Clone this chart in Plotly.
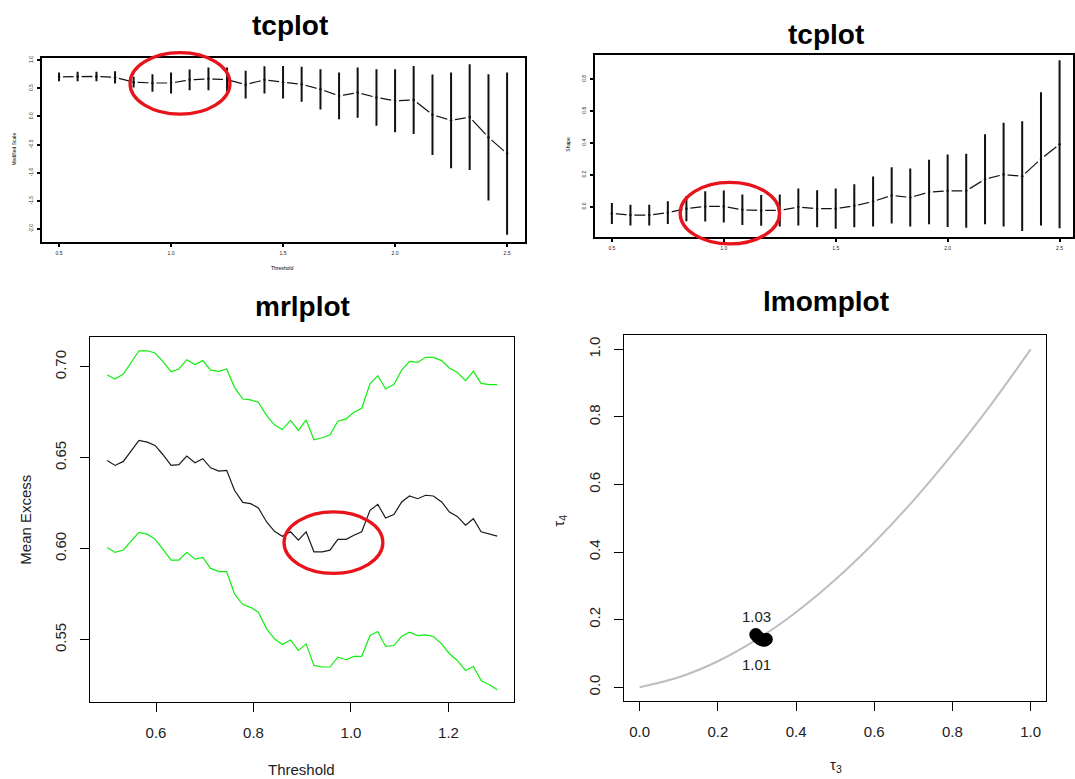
import plotly.graph_objects as go

W, H = 1075, 779

# ---------------- tcplot: modified scale ----------------
tc_threshold = [0.5, 0.583, 0.667, 0.75, 0.833, 0.917, 1.0, 1.083, 1.167, 1.25,
                1.333, 1.417, 1.5, 1.583, 1.667, 1.75, 1.833, 1.917, 2.0, 2.083,
                2.167, 2.25, 2.333, 2.417, 2.5]
mod_scale = [0.705, 0.711, 0.711, 0.696, 0.610, 0.595, 0.595, 0.651, 0.669, 0.654,
             0.566, 0.651, 0.610, 0.572, 0.483, 0.365, 0.424, 0.338, 0.279, 0.294,
             0.031, -0.069, -0.010, -0.371, -0.660]
mod_scale_err = [0.077, 0.083, 0.083, 0.109, 0.095, 0.157, 0.186, 0.183, 0.201, 0.216,
                 0.245, 0.242, 0.289, 0.310, 0.357, 0.416, 0.446, 0.502, 0.561, 0.605,
                 0.715, 0.851, 0.939, 1.122, 1.441]

# ---------------- tcplot: shape ----------------
shape_est = [-0.042, -0.052, -0.052, -0.037, -0.012, 0.002, 0.002, -0.019, -0.023, -0.023,
             -0.002, -0.012, -0.012, 0.006, 0.033, 0.071, 0.058, 0.092, 0.100, 0.100,
             0.173, 0.202, 0.192, 0.300, 0.392]
shape_err = [0.066, 0.065, 0.065, 0.071, 0.079, 0.095, 0.100, 0.096, 0.096, 0.100,
             0.116, 0.116, 0.126, 0.135, 0.156, 0.176, 0.182, 0.202, 0.227, 0.232,
             0.282, 0.325, 0.344, 0.417, 0.527]

# ---------------- mrlplot ----------------
mrl_threshold = [0.5, 0.516, 0.533, 0.549, 0.565, 0.582, 0.598, 0.614, 0.631, 0.647,
                 0.663, 0.680, 0.696, 0.712, 0.729, 0.745, 0.761, 0.778, 0.794, 0.810,
                 0.827, 0.843, 0.859, 0.876, 0.892, 0.908, 0.924, 0.941, 0.957, 0.973,
                 0.990, 1.006, 1.022, 1.039, 1.055, 1.071, 1.088, 1.104, 1.120, 1.137,
                 1.153, 1.169, 1.186, 1.202, 1.218, 1.235, 1.251, 1.267, 1.284, 1.300]
mean_excess = [0.6485, 0.6458, 0.6480, 0.6537, 0.6595, 0.6586, 0.6568, 0.6518, 0.6458, 0.6462,
               0.6509, 0.6473, 0.6495, 0.6445, 0.6427, 0.6431, 0.6321, 0.6255, 0.6248, 0.6224,
               0.6147, 0.6096, 0.6069, 0.6093, 0.6047, 0.6093, 0.5983, 0.5983, 0.5992, 0.6052,
               0.6052, 0.6074, 0.6093, 0.6211, 0.6244, 0.6169, 0.6188, 0.6257, 0.6290, 0.6275,
               0.6294, 0.6290, 0.6257, 0.6202, 0.6178, 0.6129, 0.6165, 0.6093, 0.6080, 0.6069]
mrl_upper = [0.6955, 0.6933, 0.6960, 0.7024, 0.7088, 0.7088, 0.7076, 0.7030, 0.6973, 0.6988,
             0.7039, 0.7012, 0.7034, 0.6982, 0.6975, 0.6988, 0.6887, 0.6823, 0.6818, 0.6805,
             0.6732, 0.6681, 0.6655, 0.6705, 0.6650, 0.6708, 0.6599, 0.6610, 0.6626, 0.6701,
             0.6714, 0.6750, 0.6772, 0.6906, 0.6951, 0.6878, 0.6902, 0.6982, 0.7030, 0.7024,
             0.7052, 0.7052, 0.7034, 0.6992, 0.6970, 0.6924, 0.6975, 0.6909, 0.6902, 0.6902]
mrl_lower = [0.6007, 0.5980, 0.5993, 0.6044, 0.6090, 0.6080, 0.6053, 0.5998, 0.5938, 0.5938,
             0.5980, 0.5943, 0.5952, 0.5892, 0.5874, 0.5874, 0.5752, 0.5693, 0.5678, 0.5651,
             0.5560, 0.5505, 0.5474, 0.5499, 0.5441, 0.5477, 0.5359, 0.5350, 0.5350, 0.5404,
             0.5390, 0.5408, 0.5408, 0.5523, 0.5545, 0.5463, 0.5468, 0.5519, 0.5541, 0.5523,
             0.5527, 0.5518, 0.5477, 0.5423, 0.5386, 0.5331, 0.5353, 0.5276, 0.5253, 0.5225]

# ---------------- lmomplot ----------------
gpd_tau3 = [0.0, 0.1, 0.2, 0.3, 0.4, 0.5, 0.6, 0.7, 0.8, 0.9, 1.0]
gpd_tau4 = [0.0, 0.0294, 0.0769, 0.1415, 0.2222, 0.3182, 0.4286, 0.5526, 0.6897, 0.8390, 1.0]
sample_tau3 = [0.297, 0.302, 0.308, 0.314, 0.319, 0.324]
sample_tau4 = [0.156, 0.149, 0.143, 0.140, 0.139, 0.142]
lmom_labels = ["1.03", "1.01"]
lmom_label_pos = [(0.298, 0.2105), (0.298, 0.068)]

# highlighted regions: (center x, center y, radius x, radius y) in data units
ring_scale = (1.040, 0.587, 0.223, 0.546)
ring_shape = (1.027, -0.040, 0.222, 0.193)
ring_mrl = (0.964, 0.6034, 0.1014, 0.0169)

FONT = "Liberation Sans, Arial, sans-serif"
TXT = "#222222"
RED = "#e8141b"


def px(x):
    return x / W


def py(y):
    return 1 - y / H


# subplot boxes in pixels: (left, top, right, bottom)
box_tl = (41.7, 55.7, 525.0, 240.3)
box_tr = (594.5, 52.7, 1073.0, 236.0)
box_bl = (90.2, 336.0, 513.8, 702.3)
box_br = (624.3, 334.3, 1046.3, 700.7)

rng = {
    "tl": ([0.4226, 2.580], [-2.225, 1.047]),
    "tr": ([0.4224, 2.560], [-0.192, 0.954]),
    "bl": ([0.465, 1.334], [0.5155, 0.7163]),
    "br": ([-0.0393, 1.0401], [-0.0404, 1.0413]),
}
boxes = {"tl": box_tl, "tr": box_tr, "bl": box_bl, "br": box_br}


def dom_x(b):
    return [px(b[0]), px(b[2])]


def dom_y(b):
    return [py(b[3]), py(b[1])]


fig = go.Figure()


def tc_panel(xa, ya, est, err):
    # type "b" style: a solid line broken around each estimate, with vertical CI bars
    fig.add_trace(go.Scatter(x=tc_threshold, y=est, mode="lines", xaxis=xa, yaxis=ya,
                             line=dict(color="#111111", width=1.2), hoverinfo="skip"))
    fig.add_trace(go.Scatter(x=tc_threshold, y=est, mode="markers", xaxis=xa, yaxis=ya,
                             marker=dict(color="white", size=8), hoverinfo="skip"))
    fig.add_trace(go.Scatter(x=tc_threshold, y=est, mode="markers", xaxis=xa, yaxis=ya,
                             marker=dict(color="#111111", size=2.5),
                             error_y=dict(type="data", array=err, visible=True,
                                          color="#111111", thickness=2, width=0)))


tc_panel("x", "y", mod_scale, mod_scale_err)
tc_panel("x2", "y2", shape_est, shape_err)

# mean residual life with confidence band
fig.add_trace(go.Scatter(x=mrl_threshold, y=mrl_upper, mode="lines", xaxis="x3", yaxis="y3",
                         line=dict(color="#10ee10", width=1.2)))
fig.add_trace(go.Scatter(x=mrl_threshold, y=mrl_lower, mode="lines", xaxis="x3", yaxis="y3",
                         line=dict(color="#10ee10", width=1.2)))
fig.add_trace(go.Scatter(x=mrl_threshold, y=mean_excess, mode="lines", xaxis="x3", yaxis="y3",
                         line=dict(color="#1a1a1a", width=1.2)))

# L-moment ratio diagram
fig.add_trace(go.Scatter(x=gpd_tau3, y=gpd_tau4, mode="lines", xaxis="x4", yaxis="y4",
                         line=dict(color="#bebebe", width=2, shape="spline")))
fig.add_trace(go.Scatter(x=sample_tau3, y=sample_tau4, mode="markers", xaxis="x4", yaxis="y4",
                         marker=dict(symbol="circle-open", size=9, color="black",
                                     line=dict(width=4, color="black"))))


def axis(dom, r, tickvals, ticktext, size, ticklen, lw, standoff, angle=None, anchor=None):
    d = dict(domain=dom, range=r, tickvals=tickvals, ticktext=ticktext,
             showline=True, mirror=True, linecolor="black", linewidth=lw,
             ticks="outside", ticklen=ticklen, tickwidth=lw, tickcolor="black",
             showgrid=False, zeroline=False, fixedrange=True,
             tickfont=dict(family=FONT, size=size, color=TXT),
             ticklabelstandoff=standoff, anchor=anchor)
    if angle is not None:
        d["tickangle"] = angle
    return d


tl_x = [0.5, 1.0, 1.5, 2.0, 2.5]
tl_xt = ["0.5", "1.0", "1.5", "2.0", "2.5"]
tl_y = [1.0, 0.5, 0.0, -0.5, -1.0, -1.5, -2.0]
tl_yt = ["1.0", "0.5", "0.0", "-0.5", "-1.0", "-1.5", "-2.0"]
tr_y = [0.0, 0.2, 0.4, 0.6, 0.8]
tr_yt = ["0.0", "0.2", "0.4", "0.6", "0.8"]
bl_x = [0.6, 0.8, 1.0, 1.2]
bl_xt = ["0.6", "0.8", "1.0", "1.2"]
bl_y = [0.55, 0.60, 0.65, 0.70]
bl_yt = ["0.55", "0.60", "0.65", "0.70"]
br_t = [0.0, 0.2, 0.4, 0.6, 0.8, 1.0]
br_tt = ["0.0", "0.2", "0.4", "0.6", "0.8", "1.0"]

layout = dict(
    width=W, height=H, margin=dict(l=0, r=0, t=0, b=0),
    paper_bgcolor="white", plot_bgcolor="white", showlegend=False,
    xaxis=axis(dom_x(box_tl), rng["tl"][0], tl_x, tl_xt, 5, 3, 2, 2, anchor="y"),
    yaxis=axis(dom_y(box_tl), rng["tl"][1], tl_y, tl_yt, 5, 3, 2, 2, angle=-90, anchor="x"),
    xaxis2=axis(dom_x(box_tr), rng["tr"][0], tl_x, tl_xt, 5, 3, 2, 2, anchor="y2"),
    yaxis2=axis(dom_y(box_tr), rng["tr"][1], tr_y, tr_yt, 5, 3, 2, 2, angle=-90, anchor="x2"),
    xaxis3=axis(dom_x(box_bl), rng["bl"][0], bl_x, bl_xt, 15, 9, 1, 8, anchor="y3"),
    yaxis3=axis(dom_y(box_bl), rng["bl"][1], bl_y, bl_yt, 15, 9, 1, 8, angle=-90, anchor="x3"),
    xaxis4=axis(dom_x(box_br), rng["br"][0], br_t, br_tt, 15, 9, 1, 8, anchor="y4"),
    yaxis4=axis(dom_y(box_br), rng["br"][1], br_t, br_tt, 15, 9, 1, 8, angle=-90, anchor="x4"),
)
fig.update_layout(**layout)


def note(text, x, y, size, angle=0, color="black"):
    fig.add_annotation(text=text, x=px(x), y=py(y), xref="paper", yref="paper",
                       showarrow=False, textangle=angle, xanchor="center", yanchor="middle",
                       font=dict(family=FONT, size=size, color=color))


# panel titles
note("<b>tcplot</b>", 290, 24, 28)
note("<b>tcplot</b>", 826, 33, 28)
note("<b>mrlplot</b>", 302, 305, 28)
note("<b>lmomplot</b>", 826, 300, 28)

# axis titles
note("Threshold", 282, 267, 5)
note("Modified Scale", 14, 148, 5, angle=-90)
note("Shape", 568, 143, 5, angle=-90)
note("Mean Excess", 26, 519, 15, angle=-90, color=TXT)
note("Threshold", 301, 769, 15, color=TXT)
note("τ<sub>4</sub>", 560, 520, 15, angle=-90, color=TXT)
note("τ<sub>3</sub>", 836, 765, 15, color=TXT)

# threshold labels on the L-moment diagram
for lab, (tx, ty) in zip(lmom_labels, lmom_label_pos):
    fig.add_annotation(text=lab, x=tx, y=ty, xref="x4", yref="y4", showarrow=False,
                       font=dict(family=FONT, size=15, color=TXT))


def ring(key, spec):
    cx, cy, rx, ry = spec
    (x0, x1), (y0, y1) = rng[key]
    dx, dy = dom_x(boxes[key]), dom_y(boxes[key])

    def fx(v):
        return dx[0] + (v - x0) / (x1 - x0) * (dx[1] - dx[0])

    def fy(v):
        return dy[0] + (v - y0) / (y1 - y0) * (dy[1] - dy[0])

    fig.add_shape(type="circle", xref="paper", yref="paper",
                  x0=fx(cx - rx), x1=fx(cx + rx), y0=fy(cy - ry), y1=fy(cy + ry),
                  line=dict(color=RED, width=3.3), layer="above")


ring("tl", ring_scale)
ring("tr", ring_shape)
ring("bl", ring_mrl)

fig.write_html("out.html")
